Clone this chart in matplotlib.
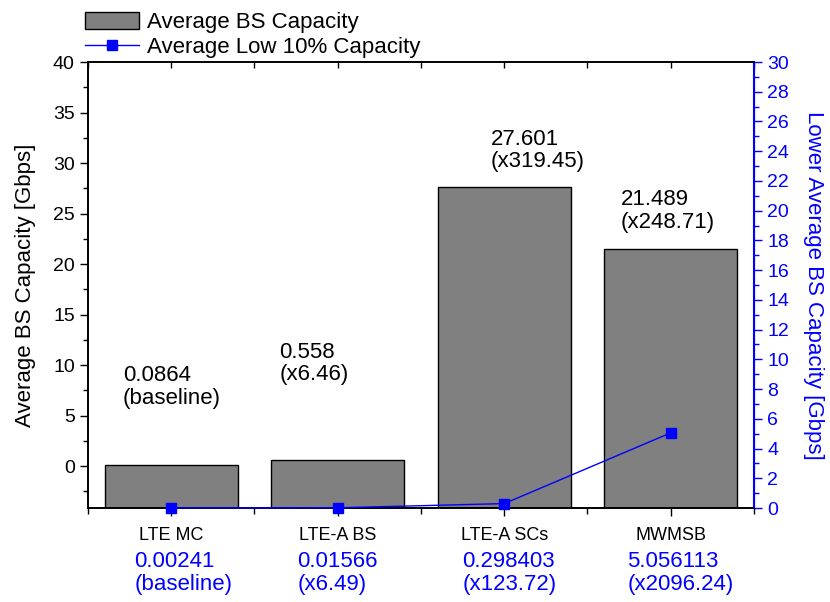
import matplotlib
matplotlib.use("Agg")
import matplotlib.pyplot as plt
from matplotlib.ticker import MultipleLocator, FixedLocator
import matplotlib.transforms as mtransforms
import numpy as np

plt.rcParams['font.family'] = ['Liberation Sans', 'DejaVu Sans']

# === données ===
categories = ["LTE MC", "LTE-A BS", "LTE-A SCs", "MWMSB"]
avg_capacity = [0.0864, 0.558, 27.601, 21.489]
low10_capacity = [0.00241, 0.01566, 0.298403, 5.056113]
avg_labels = ["0.0864\n(baseline)", "0.558\n(x6.46)", "27.601\n(x319.45)", "21.489\n(x248.71)"]
low_labels = ["0.00241\n(baseline)", "0.01566\n(x6.49)", "0.298403\n(x123.72)", "5.056113\n(x2096.24)"]

BLUE = "#0000FF"
GRAY = "#808080"
YMIN = -4.15

fig = plt.figure(figsize=(8.30, 6.02), dpi=100)
ax = fig.add_axes([0.106, 0.1561, 0.8024, 0.7409])
ax2 = ax.twinx()

x = np.arange(len(categories))
ax.bar(x, np.array(avg_capacity) - YMIN, bottom=YMIN, width=0.8,
       color=GRAY, edgecolor="black", linewidth=1.0, label="Average BS Capacity")
ax2.plot(x, low10_capacity, color=BLUE, linewidth=1.0, marker="s", markersize=7,
         label="Average Low 10% Capacity", clip_on=False, zorder=5)

ax.set_xlim(-0.5, 3.5)
ax.set_ylim(YMIN, 40)
ax2.set_ylim(0, 30)

# axe gauche
ax.yaxis.set_major_locator(FixedLocator([0, 5, 10, 15, 20, 25, 30, 35, 40]))
ax.yaxis.set_minor_locator(FixedLocator([-2.5, 2.5, 7.5, 12.5, 17.5, 22.5, 27.5, 32.5, 37.5]))
ax.tick_params(axis="y", which="major", direction="out", length=6, width=1, labelsize=14)
ax.tick_params(axis="y", which="minor", direction="out", length=3.5, width=1)
ax.set_ylabel("Average BS Capacity [Gbps]", fontsize=16, labelpad=12)

# axe x
ax.set_xticks(x)
ax.set_xticklabels(categories, fontsize=13)
ax.xaxis.set_minor_locator(FixedLocator([-0.5, 0.5, 1.5, 2.5, 3.5]))
ax.tick_params(axis="x", which="major", direction="out", length=6, width=1, pad=8)
ax.tick_params(axis="x", which="minor", direction="out", length=4, width=1)
ax.tick_params(axis="x", which="both", top=True)

# axe droit
ax2.yaxis.set_major_locator(MultipleLocator(2))
ax2.yaxis.set_minor_locator(MultipleLocator(1))
ax2.tick_params(axis="y", which="major", direction="out", length=6, width=1,
                colors=BLUE, labelsize=14)
ax2.tick_params(axis="y", which="minor", direction="out", length=3.5, width=1, colors=BLUE)
ax2.spines["right"].set_color(BLUE)
ax2.spines["right"].set_linewidth(1.5)
ax2.set_ylabel("Lower Average BS Capacity [Gbps]", fontsize=16, color=BLUE,
               rotation=270, labelpad=25)

for a in (ax, ax2):
    a.spines["left"].set_linewidth(1.2)
    a.spines["bottom"].set_linewidth(1.2)
    a.spines["top"].set_linewidth(1.2)

# ticks du haut vers l'intérieur
for t in ax.xaxis.get_major_ticks() + ax.xaxis.get_minor_ticks():
    t.tick2line.set_marker(matplotlib.lines.TICKDOWN)
    t.tick2line.set_markersize(4)

# annotations au-dessus des barres
avg_pos = [(-0.29, 10.0), (0.65, 12.3), (1.92, 33.4), (2.70, 27.4)]
for (px, py), s in zip(avg_pos, avg_labels):
    ax.text(px, py, s, ha="left", va="top", fontsize=16, linespacing=1.1)

# valeurs bleues sous l'axe x
trans = mtransforms.blended_transform_factory(ax.transData, ax.transAxes)
low_x = [-0.22, 0.757, 1.75, 2.74]
for px, s in zip(low_x, low_labels):
    ax.text(px, -0.097, s, transform=trans, ha="left", va="top", fontsize=16,
            color=BLUE, linespacing=1.08)

# légende
h1, l1 = ax.get_legend_handles_labels()
h2, l2 = ax2.get_legend_handles_labels()
fig.legend(h1 + h2, l1 + l2, loc="upper left", bbox_to_anchor=(0.088, 1.0),
           frameon=False, fontsize=16, handlelength=2.4, handleheight=0.8,
           labelspacing=0.15, handletextpad=0.4, borderaxespad=0.15)

fig.savefig("out.png", dpi=100)
